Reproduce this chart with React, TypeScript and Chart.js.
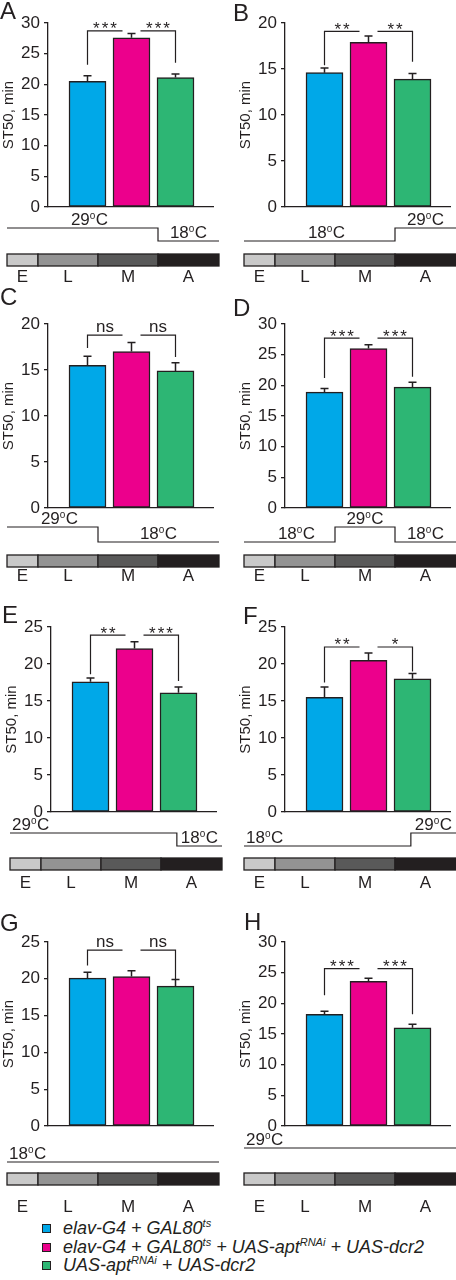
import React, { useEffect, useRef } from 'react';
import { Chart, registerables } from 'chart.js';

Chart.register(...registerables);

const FONT = '"Liberation Sans", Arial, Helvetica, sans-serif';
const INK = '#231f20';

// ---------- data ----------
const groupLabels = ['elav-G4 + GAL80^ts', 'elav-G4 + GAL80^ts + UAS-apt^RNAi + UAS-dcr2', 'UAS-apt^RNAi + UAS-dcr2'];
const groupColors = ['#00a8e8', '#ec008c', '#2db674'];
const stages = ['E', 'L', 'M', 'A'];
const stageColors = ['#c9c9c9', '#939393', '#595959', '#231f20'];
const panelLetters = ['A', 'B', 'C', 'D', 'E', 'F', 'G', 'H'];
const yAxisTitle = 'ST50, min';
const yMaxes = [30, 20, 20, 30, 25, 25, 25, 30];

const meanA = [20.5, 27.6, 21.1];
const semA = [0.9, 0.7, 0.6];
const meanB = [14.6, 17.9, 13.9];
const semB = [0.5, 0.7, 0.6];
const meanC = [15.5, 17.0, 14.9];
const semC = [1.0, 1.0, 0.9];
const meanD = [18.9, 26.0, 19.7];
const semD = [0.6, 0.6, 0.8];
const meanE = [17.6, 22.1, 16.1];
const semE = [0.5, 0.9, 0.8];
const meanF = [15.5, 20.5, 18.0];
const semF = [1.4, 1.0, 0.7];
const meanG = [20.1, 20.3, 19.0];
const semG = [0.8, 0.8, 0.9];
const meanH = [18.2, 23.6, 16.0];
const semH = [0.5, 0.5, 0.6];

const sigA = ['***', '***'];
const sigB = ['**', '**'];
const sigC = ['ns', 'ns'];
const sigD = ['***', '***'];
const sigE = ['**', '***'];
const sigF = ['**', '*'];
const sigG = ['ns', 'ns'];
const sigH = ['***', '***'];

// bracket levels in data units: [top, left drop end, right drop end]
const bracketA = [28.7, 23.2, 23.5];
const bracketB = [19.1, 15.4, 15.8];
const bracketC = [18.8, 17.4, 16.4];
const bracketD = [27.7, 21.2, 21.4];
const bracketE = [23.9, 18.6, 17.7];
const bracketF = [22.3, 17.5, 19.0];
const bracketG = [23.9, 21.8, 19.9];
const bracketH = [25.65, 21.3, 18.2];

// temperature schedule: [from stage, to stage, °C] (stages E=0..1, L=1..2, M=2..3, A=3..4)
const tempA = [[0, 3, 29], [3, 4, 18]];
const tempB = [[0, 3, 18], [3, 4, 29]];
const tempC = [[0, 2, 29], [2, 4, 18]];
const tempD = [[0, 2, 18], [2, 3, 29], [3, 4, 18]];
const tempE = [[0, 3.26, 29], [3.26, 4, 18]];
const tempF = [[0, 3.26, 18], [3.26, 4, 29]];
const tempG = [[0, 4, 18]];
const tempH = [[0, 4, 29]];

const means = [meanA, meanB, meanC, meanD, meanE, meanF, meanG, meanH];
const sems = [semA, semB, semC, semD, semE, semF, semG, semH];
const sigs = [sigA, sigB, sigC, sigD, sigE, sigF, sigG, sigH];
const brackets = [bracketA, bracketB, bracketC, bracketD, bracketE, bracketF, bracketG, bracketH];
const temps = [tempA, tempB, tempC, tempD, tempE, tempF, tempG, tempH];

// ---------- layout (pixels) ----------
const ROWS = [
  { top: 0, h: 285, y0: 207, yTop: 23, hi: 228, lo: 241, barTop: 254, labelY: 277 },
  { top: 285, h: 305, y0: 508, yTop: 324, hi: 527, lo: 542, barTop: 555, labelY: 576 },
  { top: 590, h: 302, y0: 812, yTop: 627, hi: 833, lo: 846, barTop: 858, labelY: 883 },
  { top: 892, h: 323, y0: 1126, yTop: 942, hi: 1148, lo: 1162, barTop: 1173, labelY: 1207 },
];
const COL_SHIFT = [0, 237, 0, 237, 3, 237, 0, 237];
const CANVAS_LEFT = [0, 228];
const LETTER_POS = [[0, 10], [233, 12], [0, 296], [233, 307], [2, 614], [243, 615], [0, 922], [244, 921]];
const STAGE_B = [7, 38, 98, 158, 219];
const AXIS_X = 48;
const AXIS_END = 213;
const BAR_C0 = 87.5;
const BAR_STEP = 44;
const CW = 228;

function drawTemp(ctx: CanvasRenderingContext2D, t: number, x: number, y: number, align: string) {
  const big = `17px ${FONT}`;
  const small = `10px ${FONT}`;
  const num = String(t);
  ctx.font = big;
  const w1 = ctx.measureText(num).width;
  const wC = ctx.measureText('C').width;
  ctx.font = small;
  const wo = ctx.measureText('o').width + 0.5;
  const total = w1 + wo + wC;
  const sx = align === 'start' ? x : x - total / 2;
  ctx.textAlign = 'left';
  ctx.textBaseline = 'alphabetic';
  ctx.fillStyle = INK;
  ctx.font = big;
  ctx.fillText(num, sx, y);
  ctx.font = small;
  ctx.fillText('o', sx + w1, y - 6);
  ctx.font = big;
  ctx.fillText('C', sx + w1 + wo, y);
}

function Panel({ i }: { i: number }) {
  const ref = useRef<HTMLCanvasElement>(null);
  const row = ROWS[Math.floor(i / 2)];
  const col = i % 2;
  const canvasLeft = CANVAS_LEFT[col];
  const offX = COL_SHIFT[i] - canvasLeft;

  useEffect(() => {
    const canvas = ref.current;
    if (!canvas) return;
    const mean = means[i];
    const sem = sems[i];
    const sig = sigs[i];
    const br = brackets[i];
    const temp = temps[i];
    const axisEnd = AXIS_END + offX;
    const xMin = -(BAR_C0 - AXIS_X) / BAR_STEP;
    const xMax = xMin + (AXIS_END - AXIS_X) / BAR_STEP;
    const top = row.yTop - row.top;
    const bottom = row.y0 - row.top;

    const stageX = (u: number) => {
      const k = Math.min(3, Math.floor(u));
      const f = u - k;
      return STAGE_B[k] + f * (STAGE_B[k + 1] - STAGE_B[k]) + offX;
    };

    const annot = {
      id: 'annot',
      afterDatasetsDraw(chart: any) {
        const ctx = chart.ctx as CanvasRenderingContext2D;
        const xs = chart.scales.x;
        const ys = chart.scales.y;
        ctx.save();
        ctx.strokeStyle = INK;
        ctx.lineWidth = 1.5;
        mean.forEach((m, k) => {
          const x = xs.getPixelForValue(k);
          const y1 = ys.getPixelForValue(m);
          const y2 = ys.getPixelForValue(m + sem[k]);
          ctx.beginPath();
          ctx.moveTo(x, y1);
          ctx.lineTo(x, y2);
          ctx.moveTo(x - 4, y2);
          ctx.lineTo(x + 4, y2);
          ctx.stroke();
        });
        ctx.restore();
      },
      afterDraw(chart: any) {
        const ctx = chart.ctx as CanvasRenderingContext2D;
        const xs = chart.scales.x;
        const ys = chart.scales.y;
        ctx.save();
        ctx.strokeStyle = INK;
        ctx.fillStyle = INK;
        ctx.lineWidth = 1.2;
        // brackets
        const yT = ys.getPixelForValue(br[0]);
        const xa = xs.getPixelForValue(0);
        const xb = xs.getPixelForValue(1);
        const xc = xs.getPixelForValue(2);
        const spans = [
          [xa, xb - 9, ys.getPixelForValue(br[1]), true],
          [xb + 9, xc, ys.getPixelForValue(br[2]), false],
        ] as any[];
        spans.forEach(([x1, x2, yd, leftDrop], k) => {
          ctx.beginPath();
          if (leftDrop) {
            ctx.moveTo(x1, yd);
            ctx.lineTo(x1, yT);
            ctx.lineTo(x2, yT);
          } else {
            ctx.moveTo(x1, yT);
            ctx.lineTo(x2, yT);
            ctx.lineTo(x2, yd);
          }
          ctx.stroke();
          const label = sig[k];
          ctx.textAlign = 'center';
          ctx.textBaseline = 'alphabetic';
          ctx.font = `17px ${FONT}`;
          if (label === 'ns') {
            (ctx as any).letterSpacing = '0px';
            ctx.fillText(label, (x1 + x2) / 2, yT - 3);
          } else {
            (ctx as any).letterSpacing = '2px';
            ctx.fillText(label, (x1 + x2) / 2 + 1, yT + 3.5);
            (ctx as any).letterSpacing = '0px';
          }
        });
        // temperature schedule
        const hi = row.hi - row.top;
        const lo = row.lo - row.top;
        const lvl = (t: number) => (t >= 25 ? hi : lo);
        ctx.beginPath();
        ctx.lineWidth = 1.2;
        temp.forEach((s, k) => {
          const y = lvl(s[2]);
          if (k === 0) ctx.moveTo(stageX(s[0]), y);
          else ctx.lineTo(stageX(s[0]), y);
          ctx.lineTo(stageX(s[1]), y);
        });
        ctx.stroke();
        temp.forEach((s) => {
          const y = lvl(s[2]) - 3;
          if (s[1] - s[0] >= 3.2) drawTemp(ctx, s[2], stageX(s[0]) + 2, y, 'start');
          else {
            const c = (stageX(s[0]) + stageX(s[1])) / 2 + (s[0] === 0 ? 7 : 0);
            drawTemp(ctx, s[2], c, y, 'center');
          }
        });
        // stage bar
        const bt = row.barTop - row.top;
        const bh = 12;
        stages.forEach((st, k) => {
          const x1 = stageX(k);
          const x2 = stageX(k + 1);
          ctx.fillStyle = stageColors[k];
          ctx.fillRect(x1, bt, x2 - x1, bh);
          ctx.strokeStyle = INK;
          ctx.lineWidth = 1.3;
          ctx.strokeRect(x1, bt, x2 - x1, bh);
          ctx.fillStyle = INK;
          ctx.font = `17px ${FONT}`;
          ctx.textAlign = 'center';
          ctx.textBaseline = 'middle';
          ctx.fillText(st, (x1 + x2) / 2, row.labelY - row.top);
        });
        // panel letter
        const [lx, ly] = LETTER_POS[i];
        ctx.font = `24px ${FONT}`;
        ctx.textAlign = 'left';
        ctx.textBaseline = 'alphabetic';
        ctx.fillStyle = INK;
        ctx.fillText(panelLetters[i], lx - canvasLeft, ly - row.top + 8.6);
        ctx.restore();
      },
    };

    const chart = new Chart(canvas, {
      type: 'bar',
      data: {
        datasets: [
          {
            data: mean.map((v, k) => ({ x: k, y: v })),
            backgroundColor: groupColors,
            borderColor: INK,
            borderWidth: 1.5,
            borderSkipped: false,
            barThickness: 37,
          } as any,
        ],
      },
      options: {
        responsive: false,
        animation: false,
        layout: { padding: { left: offX, right: CW - axisEnd, top, bottom: 0 } },
        plugins: { legend: { display: false }, tooltip: { enabled: false } },
        scales: {
          x: {
            type: 'linear',
            offset: false,
            min: xMin,
            max: xMax,
            grid: { display: false, offset: false },
            ticks: { display: false },
            border: { display: true, color: INK, width: 1.3 },
            afterFit: (s: any) => {
              s.height = row.h - bottom;
            },
          },
          y: {
            min: 0,
            max: yMaxes[i],
            ticks: { stepSize: 5, color: INK, font: { family: FONT, size: 17 }, padding: 4 },
            grid: { display: true, drawOnChartArea: false, drawTicks: true, tickLength: 4, color: INK, lineWidth: 1.3 },
            border: { display: true, color: INK, width: 1.3 },
            title: { display: true, text: yAxisTitle, color: INK, font: { family: FONT, size: 15 }, padding: 0 },
            afterFit: (s: any) => {
              s.width = AXIS_X;
            },
          },
        },
      } as any,
      plugins: [annot],
    });
    return () => chart.destroy();
  }, [i]);

  return (
    <canvas
      ref={ref}
      width={CW}
      height={row.h}
      style={{ position: 'absolute', left: canvasLeft, top: row.top, width: CW, height: row.h }}
    />
  );
}

function LegendLabel({ text }: { text: string }) {
  const parts = text.split(/\^(\w+)/);
  return (
    <>
      {parts.map((p, k) =>
        k % 2 === 1 ? (
          <span key={k} style={{ fontSize: 11, position: 'relative', top: -7 }}>
            {p}
          </span>
        ) : (
          <span key={k}>{p}</span>
        )
      )}
    </>
  );
}

const LEGEND_Y = [1228, 1247, 1265];

export default function App() {
  return (
    <div style={{ position: 'absolute', left: 0, top: 0, width: 456, height: 1280, background: '#fff', overflow: 'hidden' }}>
      {panelLetters.map((_, i) => (
        <Panel key={i} i={i} />
      ))}
      {groupLabels.map((g, k) => (
        <div key={k}>
          <div
            style={{
              position: 'absolute',
              left: 42,
              top: LEGEND_Y[k] - 4.5,
              width: 7,
              height: 7,
              background: groupColors[k],
              border: `1px solid ${INK}`,
            }}
          />
          <div
            style={{
              position: 'absolute',
              left: 63,
              top: LEGEND_Y[k] - 10,
              height: 20,
              lineHeight: '20px',
              fontFamily: FONT,
              fontStyle: 'italic',
              fontSize: 18,
              color: INK,
              whiteSpace: 'nowrap',
            }}
          >
            <LegendLabel text={g} />
          </div>
        </div>
      ))}
    </div>
  );
}
